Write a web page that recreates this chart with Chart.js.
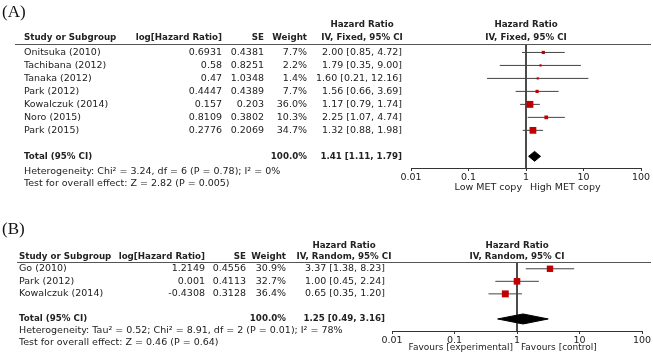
<!DOCTYPE html>
<html>
<head>
<meta charset="utf-8">
<script src="https://cdn.jsdelivr.net/npm/chart.js@4.4.1/dist/chart.umd.min.js"></script>
<style>
  html, body { margin: 0; padding: 0; background: #fff; }
  #wrap { position: relative; width: 653px; height: 357px; }
  canvas { position: absolute; left: 0; top: 0; }
</style>
</head>
<body>
<div id="wrap">
  <canvas id="chartA" width="653" height="357"></canvas>
  <canvas id="chartB" width="653" height="357"></canvas>
</div>
<script>
const tickValues = [0.01, 0.1, 1, 10, 100];

// Panel A - fixed effect
const studiesA = ['Onitsuka (2010)', 'Tachibana (2012)', 'Tanaka (2012)', 'Park (2012)', 'Kowalczuk (2014)', 'Noro (2015)', 'Park (2015)'];
const logHrA = ['0.6931', '0.58', '0.47', '0.4447', '0.157', '0.8109', '0.2776'];
const seA = ['0.4381', '0.8251', '1.0348', '0.4389', '0.203', '0.3802', '0.2069'];
const weightA = [7.7, 2.2, 1.4, 7.7, 36.0, 10.3, 34.7];
const hrA = [2.00, 1.79, 1.60, 1.56, 1.17, 2.25, 1.32];
const loA = [0.85, 0.35, 0.21, 0.66, 0.79, 1.07, 0.88];
const hiA = [4.72, 9.00, 12.16, 3.69, 1.74, 4.74, 1.98];
const totalA = [1.41, 1.11, 1.79]; // estimate, lower, upper

// Panel B - random effects
const studiesB = ['Go (2010)', 'Park (2012)', 'Kowalczuk (2014)'];
const logHrB = ['1.2149', '0.001', '-0.4308'];
const seB = ['0.4556', '0.4113', '0.3128'];
const weightB = [30.9, 32.7, 36.4];
const hrB = [3.37, 1.00, 0.65];
const loB = [1.38, 0.45, 0.35];
const hiB = [8.23, 2.24, 1.20];
const totalB = [1.25, 0.49, 3.16];

const FONT = '"DejaVu Sans", sans-serif';
const TEXT = '#222';
const RED = '#c00000';

const fmtCI = (e, l, h) => `${e.toFixed(2)} [${l.toFixed(2)}, ${h.toFixed(2)}]`;

function buildDatasets(hr, lo, hi, weight, total, totalRow, yMin, yMax, halfH) {
    const sets = [];
    // study squares, side grows with sqrt(weight) - drawn on top (lowest order)
    sets.push({
        order: 0,
        data: hr.map((v, i) => ({ x: v, y: i + 1 })),
        pointStyle: 'rect',
        pointRadius: weight.map(w => Math.max(2.2, 1.15 * Math.sqrt(w)) / Math.SQRT2),
        backgroundColor: RED, borderColor: RED, borderWidth: 0
    });
    // pooled diamond
    const [e, l, h] = total;
    sets.push({
        order: 1,
        data: [
            { x: l, y: totalRow }, { x: e, y: totalRow - halfH },
            { x: h, y: totalRow }, { x: e, y: totalRow + halfH }, { x: l, y: totalRow }
        ],
        showLine: true, fill: 'shape', tension: 0,
        borderColor: '#000', backgroundColor: '#000', borderWidth: 1, pointRadius: 0
    });
    // confidence intervals
    hr.forEach((v, i) => {
        sets.push({
            order: 2,
            data: [{ x: lo[i], y: i + 1 }, { x: hi[i], y: i + 1 }],
            showLine: true, borderColor: '#444', borderWidth: 1, pointRadius: 0
        });
    });
    // line of no effect
    sets.push({
        order: 3,
        data: [{ x: 1, y: yMin }, { x: 1, y: yMax }],
        showLine: true, borderColor: '#333', borderWidth: 1, pointRadius: 0
    });
    return sets;
}

function text(ctx, str, x, y, align, bold, size) {
    ctx.font = bold ? `bold 8.7px ${FONT}` : `${size || 9.5}px ${FONT}`;
    ctx.textAlign = align || 'left';
    ctx.textBaseline = 'middle';
    ctx.fillStyle = TEXT;
    ctx.fillText(str, x, y);
}

function tablePlugin(p) {
    return {
        id: 'table' + p.tag,
        afterDraw(chart) {
            const ctx = chart.ctx;
            const ys = chart.scales.y;
            const xs = chart.scales.x;
            const one = xs.getPixelForValue(1);
            const top = chart.chartArea.top;
            ctx.save();

            ctx.font = `17px "Liberation Serif", serif`;
            ctx.textAlign = 'left';
            ctx.textBaseline = 'middle';
            ctx.fillStyle = '#111';
            ctx.fillText(`(${p.tag})`, 2, p.tagY);

            // headers
            text(ctx, 'Hazard Ratio', p.hrHeadX, p.head1, 'center', true);
            text(ctx, p.method, p.hrHeadX, p.head2, 'center', true);
            text(ctx, 'Hazard Ratio', one, p.head1, 'center', true);
            text(ctx, p.method, one, p.head2, 'center', true);
            text(ctx, 'Study or Subgroup', p.nameX, p.head2, 'left', true);
            text(ctx, 'log[Hazard Ratio]', p.logX, p.head2, 'right', true);
            text(ctx, 'SE', p.seX, p.head2, 'right', true);
            text(ctx, 'Weight', p.wX, p.head2, 'right', true);

            ctx.strokeStyle = '#555';
            ctx.lineWidth = 1;
            ctx.beginPath();
            ctx.moveTo(p.lineX, top + 0.5);
            ctx.lineTo(651, top + 0.5);
            ctx.stroke();

            // rows
            p.studies.forEach((s, i) => {
                const y = ys.getPixelForValue(i + 1);
                text(ctx, s, p.nameX, y);
                text(ctx, p.logHr[i], p.logX, y, 'right');
                text(ctx, p.se[i], p.seX, y, 'right');
                text(ctx, p.weight[i].toFixed(1) + '%', p.wX, y, 'right');
                text(ctx, fmtCI(p.hr[i], p.lo[i], p.hi[i]), p.hrX, y, 'right');
            });

            const ty = ys.getPixelForValue(p.totalRow);
            text(ctx, 'Total (95% CI)', p.nameX, ty, 'left', true);
            text(ctx, '100.0%', p.wX, ty, 'right', true);
            text(ctx, fmtCI(...p.total), p.hrX, ty, 'right', true);
            text(ctx, p.het, p.nameX, p.hetY);
            text(ctx, p.test, p.nameX, p.testY);

            // axis captions either side of 1
            text(ctx, p.leftCap, one - 4, p.capY, 'right', false, p.capSize);
            text(ctx, p.rightCap, one + 4, p.capY, 'left', false, p.capSize);
            ctx.restore();
        }
    };
}

function makeChart(id, p) {
    return new Chart(document.getElementById(id), {
        type: 'scatter',
        data: { datasets: buildDatasets(p.hr, p.lo, p.hi, p.weight, p.total, p.totalRow, p.yMin, p.yMax, p.halfH) },
        options: {
            responsive: false,
            animation: false,
            layout: { padding: p.padding },
            plugins: { legend: { display: false }, tooltip: { enabled: false } },
            scales: {
                x: {
                    type: 'logarithmic',
                    min: 0.01,
                    max: 100,
                    afterBuildTicks: s => { s.ticks = tickValues.map(v => ({ value: v })); },
                    afterFit: s => { s.height = 20; },
                    border: { color: '#333', width: 1 },
                    grid: { drawOnChartArea: false, drawTicks: true, tickLength: 3, color: '#333' },
                    ticks: {
                        color: TEXT, padding: 1, autoSkip: false, maxRotation: 0,
                        font: { family: FONT, size: 9.5 },
                        callback: v => String(v)
                    }
                },
                y: { type: 'linear', display: false, reverse: true, min: p.yMin, max: p.yMax }
            }
        },
        plugins: [tablePlugin(p)]
    });
}

makeChart('chartA', {
    tag: 'A', tagY: 13,
    studies: studiesA, logHr: logHrA, se: seA, weight: weightA,
    hr: hrA, lo: loA, hi: hiA, total: totalA, totalRow: 9,
    yMin: 0.35, yMax: 9.9, halfH: 0.38,
    padding: { left: 411, right: 12, top: 44, bottom: 357 - 168 - 20 },
    method: 'IV, Fixed, 95% CI',
    nameX: 24, logX: 222, seX: 264, wX: 307, hrX: 402, hrHeadX: 362, lineX: 15,
    head1: 25, head2: 38, hetY: 172, testY: 184, capY: 188, capSize: 9.5,
    het: 'Heterogeneity: Chi\u00b2 = 3.24, df = 6 (P = 0.78); I\u00b2 = 0%',
    test: 'Test for overall effect: Z = 2.82 (P = 0.005)',
    leftCap: 'Low MET copy', rightCap: 'High MET copy'
});

makeChart('chartB', {
    tag: 'B', tagY: 230,
    studies: studiesB, logHr: logHrB, se: seB, weight: weightB,
    hr: hrB, lo: loB, hi: hiB, total: totalB, totalRow: 5,
    yMin: 0.46, yMax: 5.96, halfH: 0.4,
    padding: { left: 392, right: 11, top: 262, bottom: 357 - 331 - 20 },
    method: 'IV, Random, 95% CI',
    nameX: 19, logX: 205, seX: 246, wX: 286, hrX: 385, hrHeadX: 344, lineX: 17,
    head1: 246, head2: 256.5, hetY: 330.5, testY: 343, capY: 348, capSize: 9,
    het: 'Heterogeneity: Tau\u00b2 = 0.52; Chi\u00b2 = 8.91, df = 2 (P = 0.01); I\u00b2 = 78%',
    test: 'Test for overall effect: Z = 0.46 (P = 0.64)',
    leftCap: 'Favours [experimental]', rightCap: 'Favours [control]'
});
</script>
</body>
</html>
